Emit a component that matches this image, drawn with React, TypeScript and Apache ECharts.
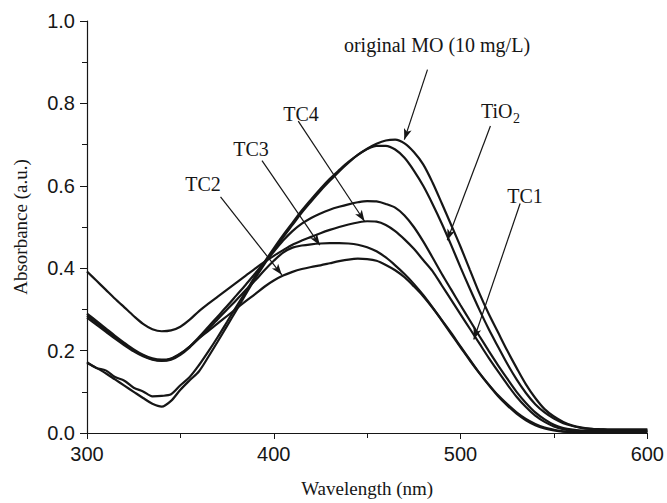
import React, { useEffect, useRef } from "react";
import * as echarts from "echarts";

// Wavelength grid (nm), 5 nm steps
const wavelengths: number[] = [];
for (let w = 300; w <= 600; w += 5) wavelengths.push(w);

const originalMO = [
  0.170, 0.158, 0.145, 0.130, 0.115, 0.100, 0.085, 0.071, 0.064, 0.078,
  0.105, 0.128, 0.150, 0.185, 0.222, 0.260, 0.298, 0.337, 0.375, 0.410,
  0.443, 0.475, 0.505, 0.535, 0.562, 0.588, 0.612, 0.635, 0.656, 0.675,
  0.690, 0.702, 0.710, 0.712, 0.703, 0.682, 0.652, 0.608, 0.557, 0.505,
  0.452, 0.396, 0.340, 0.290, 0.245, 0.200, 0.158, 0.118, 0.085, 0.058,
  0.040, 0.027, 0.018, 0.013, 0.010, 0.009, 0.008, 0.008, 0.008, 0.008, 0.008,
];
const tio2 = [
  0.172, 0.158, 0.152, 0.136, 0.127, 0.110, 0.101, 0.089, 0.090, 0.094,
  0.116, 0.136, 0.165, 0.198, 0.233, 0.270, 0.307, 0.343, 0.380, 0.415,
  0.448, 0.480, 0.510, 0.540, 0.567, 0.593, 0.617, 0.638, 0.658, 0.675,
  0.689, 0.697, 0.697, 0.688, 0.668, 0.637, 0.600, 0.556, 0.508, 0.456,
  0.402, 0.350, 0.300, 0.253, 0.210, 0.168, 0.130, 0.097, 0.070, 0.050,
  0.035, 0.024, 0.017, 0.012, 0.010, 0.009, 0.008, 0.008, 0.008, 0.008, 0.008,
];
const tc1 = [
  0.285, 0.268, 0.250, 0.232, 0.216, 0.200, 0.188, 0.179, 0.176, 0.180,
  0.192, 0.210, 0.233, 0.258, 0.283, 0.308, 0.334, 0.360, 0.387, 0.414,
  0.440, 0.467, 0.490, 0.508, 0.522, 0.533, 0.542, 0.549, 0.555, 0.560,
  0.563, 0.562, 0.556, 0.547, 0.528, 0.500, 0.465, 0.426, 0.386, 0.348,
  0.310, 0.273, 0.236, 0.200, 0.165, 0.132, 0.100, 0.073, 0.050, 0.033,
  0.020, 0.012, 0.008, 0.006, 0.005, 0.005, 0.005, 0.005, 0.005, 0.005, 0.005,
];
const tc2 = [
  0.290, 0.272, 0.254, 0.236, 0.219, 0.203, 0.190, 0.181, 0.178, 0.181,
  0.193, 0.210, 0.230, 0.248, 0.266, 0.284, 0.302, 0.320, 0.337, 0.355,
  0.370, 0.382, 0.391, 0.398, 0.403, 0.407, 0.412, 0.417, 0.421, 0.423,
  0.422, 0.418, 0.408, 0.395, 0.378, 0.356, 0.332, 0.304, 0.274, 0.243,
  0.210, 0.178, 0.146, 0.117, 0.090, 0.067, 0.047, 0.031, 0.019, 0.011,
  0.006, 0.003, 0.002, 0.002, 0.002, 0.002, 0.002, 0.002, 0.002, 0.002, 0.002,
];
const tc3 = [
  0.280, 0.263, 0.246, 0.229, 0.213, 0.198, 0.186, 0.178, 0.175, 0.178,
  0.190, 0.208, 0.230, 0.253, 0.276, 0.300, 0.323, 0.347, 0.370, 0.395,
  0.418, 0.438, 0.450, 0.455, 0.458, 0.460, 0.461, 0.461, 0.460, 0.457,
  0.451, 0.441, 0.426, 0.407, 0.386, 0.362, 0.335, 0.305, 0.273, 0.240,
  0.208, 0.176, 0.146, 0.118, 0.092, 0.070, 0.050, 0.034, 0.022, 0.013,
  0.008, 0.004, 0.002, 0.002, 0.002, 0.002, 0.003, 0.003, 0.003, 0.003, 0.003,
];
const tc4 = [
  0.392, 0.370, 0.348, 0.326, 0.305, 0.284, 0.265, 0.252, 0.247, 0.249,
  0.258, 0.275, 0.296, 0.314, 0.331, 0.348, 0.365, 0.382, 0.399, 0.415,
  0.430, 0.444, 0.457, 0.467, 0.476, 0.485, 0.493, 0.500, 0.506, 0.511,
  0.514, 0.513, 0.505, 0.490, 0.470, 0.447, 0.420, 0.393, 0.358, 0.323,
  0.288, 0.253, 0.218, 0.183, 0.150, 0.118, 0.088, 0.063, 0.042, 0.027,
  0.016, 0.009, 0.005, 0.004, 0.004, 0.004, 0.004, 0.004, 0.004, 0.004, 0.004,
];

const seriesNames = ["original MO", "TiO2", "TC1", "TC2", "TC3", "TC4"];
const seriesValues = [originalMO, tio2, tc1, tc2, tc3, tc4];

// Annotation arrows in data units: [fromX, fromY, toX, toY]
const arrows: number[][] = [
  [482.3, 0.882, 469.9, 0.712],
  [516.0, 0.745, 492.9, 0.468],
  [531.9, 0.557, 507.1, 0.227],
  [413.1, 0.757, 448.6, 0.514],
  [393.7, 0.661, 424.7, 0.456],
  [371.5, 0.573, 404.3, 0.384],
];

const xTicks = [300, 400, 500, 600];
const yTicks = [0, 0.2, 0.4, 0.6, 0.8, 1.0];

const SERIF = "'Liberation Serif', 'Times New Roman', serif";
const SANS = "'Liberation Sans', Arial, sans-serif";

export default function App() {
  const ref = useRef<HTMLDivElement>(null);
  useEffect(() => {
    if (!ref.current) return;
    const chart = echarts.init(ref.current, undefined, { renderer: "svg" });
    const series: any[] = seriesNames.map((name, i) => ({
      name,
      type: "line",
      data: wavelengths.map((w, j) => [w, seriesValues[i][j]]),
      showSymbol: false,
      smooth: 0.3,
      lineStyle: { color: "#161616", width: 2.2 },
      z: 2,
    }));
    series[0].markLine = {
      silent: true,
      symbol: ["none", "arrow"],
      symbolSize: [6, 11],
      lineStyle: { color: "#161616", width: 1.2, type: "solid" },
      label: { show: false },
      emphasis: { disabled: true },
      data: arrows.map((a) => [
        { coord: [a[0], a[1]] },
        { coord: [a[2], a[3]] },
      ]),
    };
    const textStyle = (t: string, x: number, y: number, size = 20) => ({
      type: "text",
      x,
      y,
      style: {
        text: t,
        font: `${size}px ${SERIF}`,
        fill: "#161616",
        align: "center",
        verticalAlign: "middle",
      },
    });
    chart.setOption({
      animation: false,
      backgroundColor: "#ffffff",
      grid: { left: 87, right: 17, top: 21, bottom: 67 },
      xAxis: {
        type: "value",
        min: xTicks[0],
        max: xTicks[xTicks.length - 1],
        interval: 100,
        name: "Wavelength (nm)",
        nameLocation: "middle",
        nameGap: 46,
        nameTextStyle: { fontFamily: SERIF, fontSize: 19, color: "#161616" },
        axisLine: { lineStyle: { color: "#161616", width: 1.2 } },
        axisTick: { length: 6, lineStyle: { color: "#161616" } },
        minorTick: { show: true, splitNumber: 2, length: 5, lineStyle: { color: "#161616" } },
        splitLine: { show: false },
        axisLabel: { fontFamily: SANS, fontSize: 20, color: "#161616", margin: 11 },
      },
      yAxis: {
        type: "value",
        min: yTicks[0],
        max: yTicks[yTicks.length - 1],
        interval: 0.2,
        name: "Absorbance (a.u.)",
        nameLocation: "middle",
        nameGap: 57,
        nameTextStyle: { fontFamily: SERIF, fontSize: 19, color: "#161616" },
        axisLine: { show: true, lineStyle: { color: "#161616", width: 1.2 } },
        axisTick: { show: true, length: 7, lineStyle: { color: "#161616" } },
        minorTick: { show: true, splitNumber: 2, length: 5, lineStyle: { color: "#161616" } },
        splitLine: { show: false },
        axisLabel: {
          fontFamily: SANS,
          fontSize: 20,
          color: "#161616",
          margin: 12,
          formatter: (v: number) => v.toFixed(1),
        },
      },
      series,
      graphic: [
        textStyle("original MO (10 mg/L)", 437, 45, 20),
        {
          type: "text",
          x: 481,
          y: 111,
          style: { text: "TiO", font: `20px ${SERIF}`, fill: "#161616", align: "left", verticalAlign: "middle" },
        },
        {
          type: "text",
          x: 513,
          y: 118,
          style: { text: "2", font: `14px ${SERIF}`, fill: "#161616", align: "left", verticalAlign: "middle" },
        },
        textStyle("TC1", 525, 196),
        textStyle("TC4", 301, 114),
        textStyle("TC3", 251, 149),
        textStyle("TC2", 203, 184),
      ],
    });
    return () => chart.dispose();
  }, []);
  return (
    <div
      ref={ref}
      style={{ position: "fixed", left: 0, top: 0, width: 667, height: 503, background: "#fff" }}
    />
  );
}
